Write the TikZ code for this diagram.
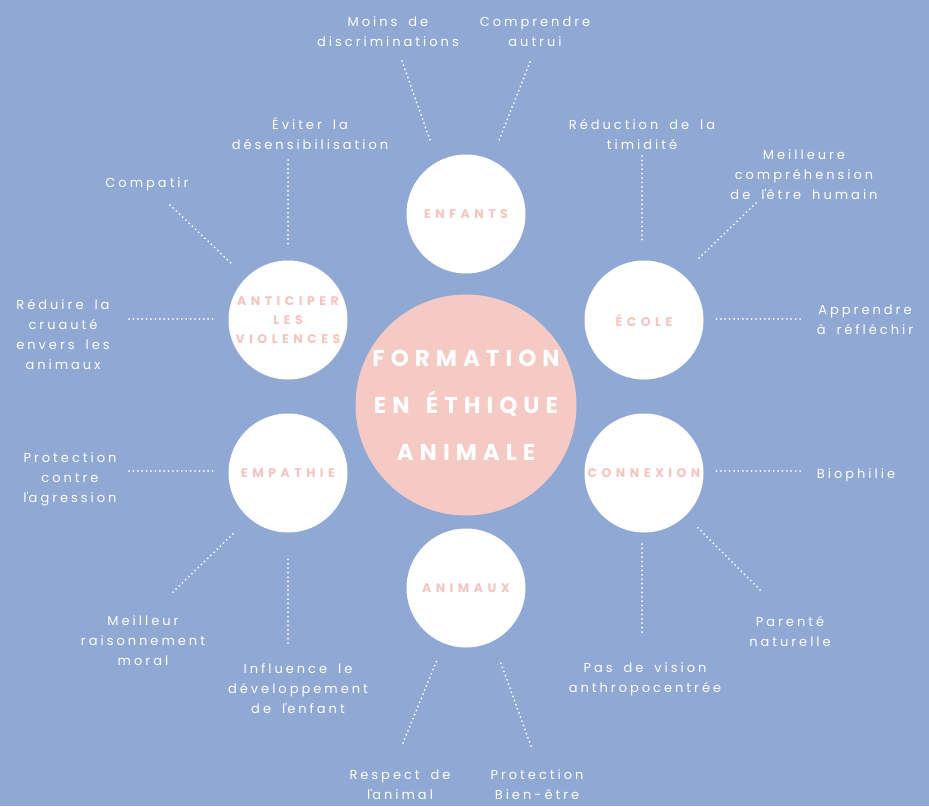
\documentclass[tikz,border=0pt]{standalone}
\usepackage{fontspec}
\setmainfont{Poppins}[LetterSpace=23,WordSpace=1.7]
\newfontfamily\headfont{Poppins}[LetterSpace=26,WordSpace=1.5,BoldFont={Poppins Bold}]
\newfontfamily\themefont{Poppins}[LetterSpace=36,BoldFont={Poppins Bold}]
\newcommand{\apos}{\textquotesingle}
\definecolor{bgblue}{HTML}{8FA8D4}
\definecolor{rosefill}{HTML}{F5CAC4}
\definecolor{rosetext}{HTML}{F4C4BE}
\begin{document}
\begin{tikzpicture}[x=1pt,y=-1pt,
  hub/.style={circle,fill=rosefill,minimum size=221pt,inner sep=0pt,align=center,
    text=white,font=\headfont\bfseries\fontsize{23}{47}\selectfont},
  theme/.style={circle,fill=white,minimum size=119pt,inner sep=0pt,align=center,
    text=rosetext,font=\themefont\bfseries\fontsize{12.5}{19}\selectfont},
  label/.style={align=center,text=white,inner sep=0pt,
    font=\fontsize{13}{20}\selectfont},
  link/.style={white,line width=2pt,line cap=round,dash pattern=on 0pt off 4.4pt}]
\fill[bgblue] (0,0) rectangle (929,806);
\useasboundingbox (0,0) rectangle (929,806);

% central hub and surrounding themes
\node[hub] (hub) at (466,405) {FORMATION\\EN ÉTHIQUE\\ANIMALE};
\node[theme] (enf) at (466,214) {ENFANTS};
\node[theme] (eco) at (644,320) {ÉCOLE};
\node[theme] (con) at (644,473) {CONNEXION};
\node[theme] (ani) at (466,588) {ANIMAUX};
\node[theme] (emp) at (288,473) {EMPATHIE};
\node[theme] (ant) at (288,320) {ANTICIPER\\LES\\VIOLENCES};

% outcome labels
\node[label] (l1) at (388,32) {Moins de\\discriminations};
\node[label] (l2) at (535,32) {Comprendre\\autrui};
\node[label] (l3) at (310,134) {Éviter la\\désensibilisation};
\node[label] (l4) at (147,184) {Compatir};
\node[label] (l5) at (642,134) {Réduction de la\\timidité};
\node[label] (l6) at (804,175) {Meilleure\\compréhension\\de l\apos être humain};
\node[label] (l7) at (63,334) {Réduire la\\cruauté\\envers les\\animaux};
\node[label] (l8) at (865,320) {Apprendre\\à réfléchir};
\node[label] (l9) at (70,479) {Protection\\contre\\l\apos agression};
\node[label] (l10) at (856,475) {Biophilie};
\node[label] (l11) at (143,641) {Meilleur\\raisonnement\\moral};
\node[label] (l12) at (298,689) {Influence le\\développement\\de l\apos enfant};
\node[label] (l13) at (790,631) {Parenté\\naturelle};
\node[label] (l14) at (645,679) {Pas de vision\\anthropocentrée};
\node[label] (l15) at (400,785) {Respect de\\l\apos animal};
\node[label] (l16) at (537,785) {Protection\\Bien-être};

% dotted connector end points
\coordinate (a1) at (402,61);   \coordinate (b1) at (431,143);
\coordinate (a2) at (530,62);   \coordinate (b2) at (498,143);
\coordinate (a3) at (288,160);  \coordinate (b3) at (288,247);
\coordinate (a4) at (170,205);  \coordinate (b4) at (233,265);
\coordinate (a5) at (642,156);  \coordinate (b5) at (642,242);
\coordinate (a6) at (756,203);  \coordinate (b6) at (697,260);
\coordinate (a7) at (129,319);  \coordinate (b7) at (216,319);
\coordinate (a8) at (800,319);  \coordinate (b8) at (713,319);
\coordinate (a9) at (129,471);  \coordinate (b9) at (216,471);
\coordinate (a10) at (800,471); \coordinate (b10) at (713,471);
\coordinate (a11) at (173,592); \coordinate (b11) at (236,531);
\coordinate (a12) at (288,643); \coordinate (b12) at (288,556);
\coordinate (a13) at (760,590); \coordinate (b13) at (697,527);
\coordinate (a14) at (642,632); \coordinate (b14) at (642,544);
\coordinate (a15) at (403,743); \coordinate (b15) at (437,660);
\coordinate (a16) at (531,746); \coordinate (b16) at (500,661);

\foreach \i in {1,...,16} {\draw[link] (a\i) -- (b\i);}
\end{tikzpicture}
\end{document}
